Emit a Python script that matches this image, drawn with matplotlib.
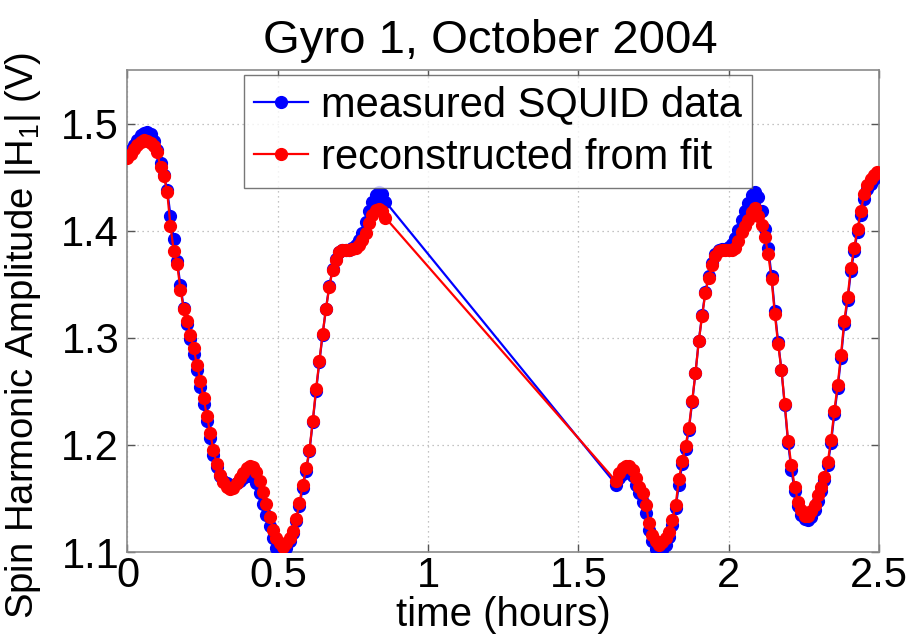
import numpy as np
import matplotlib
matplotlib.use("Agg")
import matplotlib.pyplot as plt

plt.rcParams['font.family'] = ['Liberation Sans', 'DejaVu Sans']
plt.rcParams['mathtext.fontset'] = 'custom'
plt.rcParams['mathtext.rm'] = 'Liberation Sans'
plt.rcParams['mathtext.it'] = 'Liberation Sans'

# sampling: two data-taking passes, one sample every 0.011 h
dt_hours = 0.011
pass1_start, pass1_count = 0.0, 79
pass2_start, pass2_count = 1.625, 80

# measured SQUID amplitude (V), pass 1
measured_pass1 = [
    1.470, 1.475, 1.480, 1.485, 1.489, 1.491, 1.492, 1.490, 1.484, 1.475,
    1.463, 1.452, 1.438, 1.414, 1.392, 1.372, 1.349, 1.328, 1.313, 1.299,
    1.285, 1.270, 1.254, 1.238, 1.222, 1.206, 1.191, 1.179, 1.171, 1.166,
    1.164, 1.163, 1.163, 1.164, 1.166, 1.169, 1.171, 1.172, 1.170, 1.164,
    1.155, 1.145, 1.135, 1.124, 1.113, 1.104, 1.099, 1.100, 1.104, 1.110,
    1.118, 1.129, 1.143, 1.160, 1.176, 1.194, 1.221, 1.250, 1.277, 1.303,
    1.327, 1.348, 1.364, 1.374, 1.380, 1.382, 1.382, 1.382, 1.384, 1.387,
    1.391, 1.398, 1.408, 1.418, 1.427, 1.433, 1.436, 1.434, 1.427,
]
# measured SQUID amplitude (V), pass 2
measured_pass2 = [
    1.163, 1.169, 1.173, 1.175, 1.175, 1.171, 1.163, 1.155, 1.147, 1.136,
    1.121, 1.110, 1.103, 1.100, 1.102, 1.107, 1.114, 1.125, 1.141, 1.163,
    1.182, 1.196, 1.214, 1.240, 1.267, 1.297, 1.321, 1.343, 1.358, 1.370,
    1.378, 1.382, 1.383, 1.383, 1.385, 1.388, 1.393, 1.401, 1.410, 1.418,
    1.426, 1.433, 1.436, 1.431, 1.418, 1.402, 1.384, 1.358, 1.325, 1.296,
    1.270, 1.237, 1.202, 1.177, 1.157, 1.143, 1.135, 1.131, 1.130, 1.133,
    1.139, 1.148, 1.157, 1.167, 1.181, 1.202, 1.229, 1.253, 1.281, 1.313,
    1.335, 1.362, 1.381, 1.399, 1.415, 1.430, 1.439, 1.444, 1.448, 1.451,
]
# amplitude reconstructed from the fit (V), pass 1
fit_pass1 = [
    1.468, 1.472, 1.476, 1.480, 1.483, 1.485, 1.484, 1.482, 1.479, 1.473,
    1.459, 1.451, 1.436, 1.404, 1.381, 1.369, 1.345, 1.327, 1.316, 1.303,
    1.290, 1.275, 1.260, 1.244, 1.227, 1.211, 1.195, 1.182, 1.172, 1.165,
    1.161, 1.159, 1.160, 1.164, 1.169, 1.174, 1.178, 1.180, 1.179, 1.175,
    1.166, 1.156, 1.145, 1.133, 1.121, 1.113, 1.108, 1.105, 1.108, 1.113,
    1.120, 1.131, 1.146, 1.163, 1.178, 1.195, 1.222, 1.252, 1.278, 1.304,
    1.327, 1.347, 1.363, 1.373, 1.380, 1.382, 1.382, 1.382, 1.383, 1.384,
    1.387, 1.391, 1.398, 1.407, 1.415, 1.419, 1.420, 1.418, 1.412,
]
# amplitude reconstructed from the fit (V), pass 2
fit_pass2 = [
    1.166, 1.174, 1.178, 1.180, 1.180, 1.177, 1.169, 1.161, 1.155, 1.144,
    1.127, 1.116, 1.110, 1.107, 1.109, 1.113, 1.119, 1.130, 1.144, 1.168,
    1.185, 1.199, 1.216, 1.241, 1.267, 1.297, 1.320, 1.342, 1.356, 1.368,
    1.376, 1.381, 1.382, 1.382, 1.382, 1.382, 1.384, 1.390, 1.399, 1.404,
    1.410, 1.417, 1.421, 1.414, 1.405, 1.394, 1.378, 1.355, 1.322, 1.294,
    1.270, 1.238, 1.204, 1.181, 1.161, 1.147, 1.139, 1.134, 1.134, 1.138,
    1.144, 1.153, 1.161, 1.170, 1.184, 1.205, 1.232, 1.256, 1.284, 1.316,
    1.338, 1.365, 1.384, 1.402, 1.418, 1.434, 1.443, 1.448, 1.452, 1.455,
]

x_ticks = [0, 0.5, 1, 1.5, 2, 2.5]
x_tick_labels = ['0', '0.5', '1', '1.5', '2', '2.5']
y_ticks = [1.1, 1.2, 1.3, 1.4, 1.5]
y_tick_labels = ['1.1', '1.2', '1.3', '1.4', '1.5']

time = np.concatenate([
    pass1_start + dt_hours * np.arange(pass1_count),
    pass2_start + dt_hours * np.arange(pass2_count),
])
measured = np.array(measured_pass1 + measured_pass2)
fitted = np.array(fit_pass1 + fit_pass2)

fig = plt.figure(figsize=(9.12, 6.4), dpi=100)
ax = fig.add_axes([0.1398, 0.1375, 0.8242, 0.7531])

ax.plot(time, measured, '-o', color='#0000ff', lw=1.6, ms=8.5,
        mec='#0000ff', label='measured SQUID data', zorder=3)
ax.plot(time, fitted, '-o', color='#ff0000', lw=1.6, ms=8.5,
        mec='#ff0000', label='reconstructed from fit', zorder=4)

ax.set_xlim(0, 2.5)
ax.set_ylim(1.1, 1.55)
ax.set_xticks(x_ticks)
ax.set_xticklabels(x_tick_labels)
ax.set_yticks(y_ticks)
ax.set_yticklabels(y_tick_labels)
ax.tick_params(direction='in', length=6, width=1, color='#555555',
               top=True, right=True, labelsize=30, pad=3)
ax.tick_params(axis='y', pad=6)

ax.grid(True, linestyle=(0, (1, 3)), color='#b0b0b0', linewidth=0.9)
for sp in ax.spines.values():
    sp.set_color('#8a8a8a')
    sp.set_linewidth(1.2)

ax.set_xlabel('time (hours)', fontsize=29, labelpad=0)
ax.set_ylabel(r'Spin Harmonic Amplitude |H$_1$| (V)', fontsize=27.5)
ax.yaxis.set_label_coords(-0.112, 0.45)
ax.set_title('Gyro 1, October 2004', fontsize=34, pad=12, x=0.483)

leg = ax.legend(loc='upper center', bbox_to_anchor=(0.4925, 0.99),
                fontsize=30, frameon=True, fancybox=False,
                handlelength=1.3, handletextpad=0.3, borderpad=0.25,
                labelspacing=0.3, borderaxespad=0)
leg.get_frame().set_edgecolor('#555555')
leg.get_frame().set_linewidth(1.0)

fig.savefig('out.png', dpi=100)
